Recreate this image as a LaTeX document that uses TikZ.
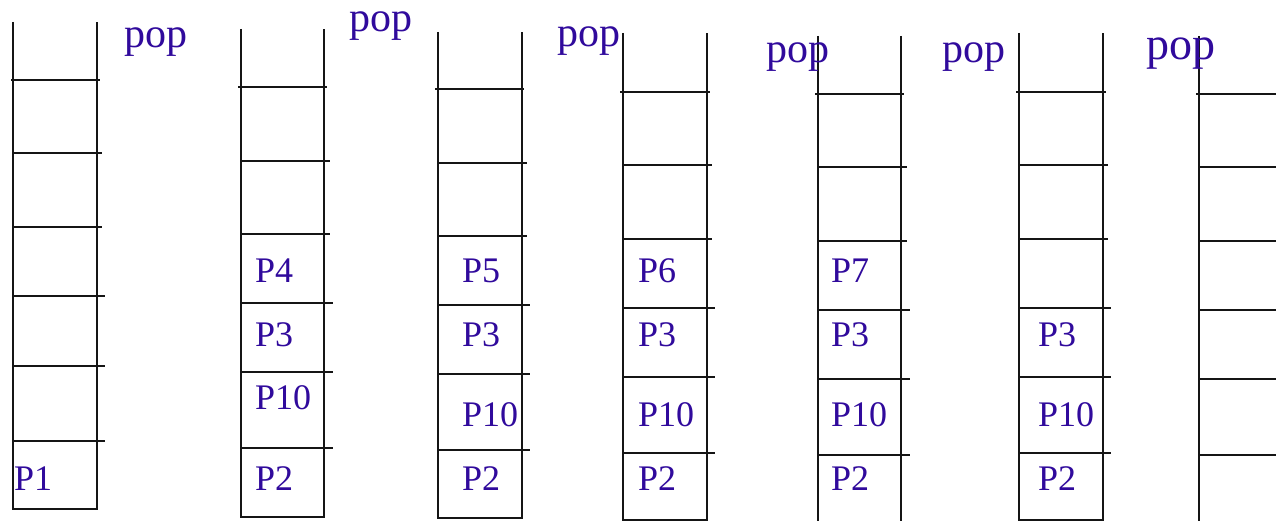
\documentclass[tikz,border=0pt]{standalone}
\usepackage{fontspec}
\setmainfont{Liberation Serif}
\definecolor{ink}{HTML}{300A9C}
\definecolor{edge}{HTML}{151515}
\begin{document}
\begin{tikzpicture}[x=1pt,y=-1pt,
  wall/.style={draw=edge,line width=2.6pt},
  lab/.style={inner sep=0pt,anchor=base west,text=ink,font=\fontsize{36}{40}\selectfont},
  poplab/.style={inner sep=0pt,anchor=base west,text=ink,font=\fontsize{42}{46}\selectfont}]
\useasboundingbox (0,0) rectangle (1276,521);
% stack 1
\draw[wall] (13,22) -- (13,509) -- (97,509) -- (97,22);
\draw[wall] (11,80) -- (100,80);
\foreach \y in {153,227} \draw[wall] (13,\y) -- (102,\y);
\foreach \y in {296,366,441} \draw[wall] (13,\y) -- (105,\y);
% stack 2
\draw[wall] (241,29) -- (241,517) -- (324,517) -- (324,29);
\draw[wall] (238,87) -- (327,87);
\foreach \y in {161,234} \draw[wall] (241,\y) -- (330,\y);
\foreach \y in {303,372,448} \draw[wall] (241,\y) -- (333,\y);
% stack 3
\draw[wall] (438,32) -- (438,518) -- (522,518) -- (522,32);
\draw[wall] (435,89) -- (524,89);
\foreach \y in {163,236} \draw[wall] (438,\y) -- (527,\y);
\foreach \y in {305,374,450} \draw[wall] (438,\y) -- (530,\y);
% stack 4
\draw[wall] (623,33) -- (623,520) -- (707,520) -- (707,33);
\draw[wall] (620,92) -- (710,92);
\foreach \y in {165,239} \draw[wall] (623,\y) -- (712,\y);
\foreach \y in {308,377,453} \draw[wall] (623,\y) -- (715,\y);
% stack 5
\draw[wall] (818,36) -- (818,521);
\draw[wall] (901,36) -- (901,521);
\draw[wall] (815,94) -- (904,94);
\foreach \y in {167,241} \draw[wall] (818,\y) -- (907,\y);
\foreach \y in {310,379,455} \draw[wall] (818,\y) -- (910,\y);
% stack 6
\draw[wall] (1019,33) -- (1019,520) -- (1103,520) -- (1103,33);
\draw[wall] (1016,92) -- (1106,92);
\foreach \y in {165,239} \draw[wall] (1019,\y) -- (1108,\y);
\foreach \y in {308,377,453} \draw[wall] (1019,\y) -- (1111,\y);
% stack 7
\draw[wall] (1199,36) -- (1199,521);
\draw[wall] (1196,94) -- (1276,94);
\foreach \y in {167,241,310,379,455} \draw[wall] (1199,\y) -- (1276,\y);
% pop labels
\node[poplab] (pop1) at (124,48) {pop};
\node[poplab] (pop2) at (349,32) {pop};
\node[poplab] (pop3) at (557,47) {pop};
\node[poplab] (pop4) at (766,63) {pop};
\node[poplab] (pop5) at (942,63) {pop};
\node[poplab,font=\fontsize{46}{50}\selectfont] (pop6) at (1146,60) {pop};
% contents
\node[lab] (s1a) at (14,490) {P1};
\node[lab] (s2a) at (255,282) {P4};
\node[lab] (s2b) at (255,346) {P3};
\node[lab] (s2c) at (255,409) {P10};
\node[lab] (s2d) at (255,490) {P2};
\node[lab] (s3a) at (462,282) {P5};
\node[lab] (s3b) at (462,346) {P3};
\node[lab] (s3c) at (462,426) {P10};
\node[lab] (s3d) at (462,490) {P2};
\node[lab] (s4a) at (638,282) {P6};
\node[lab] (s4b) at (638,346) {P3};
\node[lab] (s4c) at (638,426) {P10};
\node[lab] (s4d) at (638,490) {P2};
\node[lab] (s5a) at (831,282) {P7};
\node[lab] (s5b) at (831,346) {P3};
\node[lab] (s5c) at (831,426) {P10};
\node[lab] (s5d) at (831,490) {P2};
\node[lab] (s6b) at (1038,346) {P3};
\node[lab] (s6c) at (1038,426) {P10};
\node[lab] (s6d) at (1038,490) {P2};
\end{tikzpicture}
\end{document}
